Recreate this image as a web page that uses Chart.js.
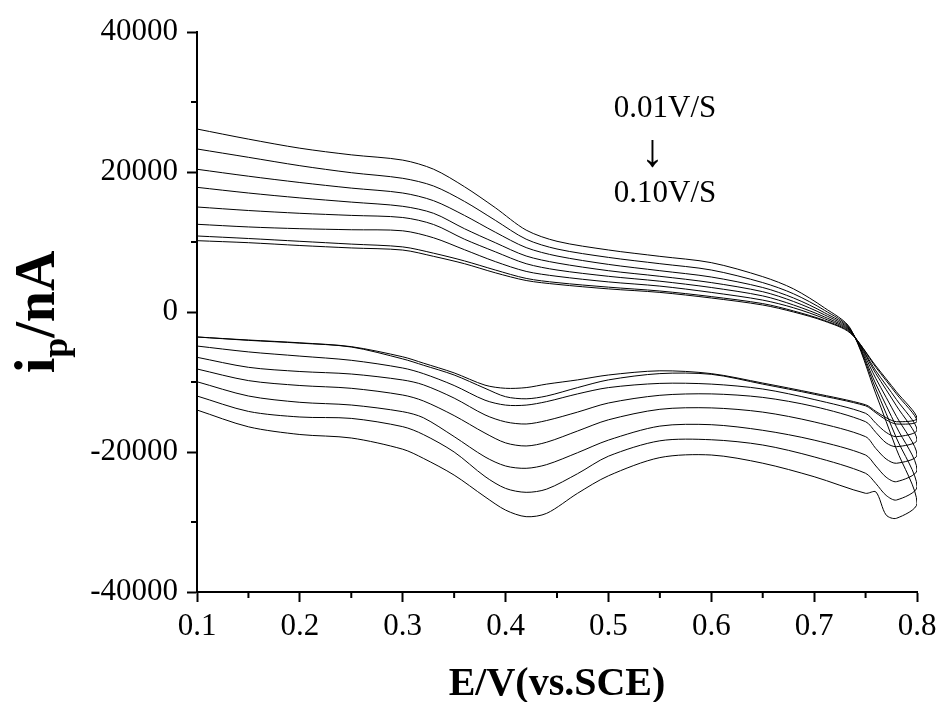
<!DOCTYPE html>
<html>
<head>
<meta charset="utf-8">
<script src="https://cdn.jsdelivr.net/npm/chart.js@4/dist/chart.umd.min.js"></script>
<style>
  body { margin: 0; background: #fff; }
  canvas { display: block; }
</style>
</head>
<body>
<canvas id="chart" width="938" height="702"></canvas>
<script>
// potential grid (V vs SCE) for forward and reverse scans
const eForward = [0.10, 0.15, 0.20, 0.25, 0.30, 0.33, 0.36, 0.39, 0.42, 0.45, 0.50, 0.55, 0.60, 0.65, 0.68, 0.71, 0.735, 0.76, 0.78, 0.80];
const eReverse = [0.80, 0.78, 0.77, 0.76, 0.75, 0.70, 0.65, 0.60, 0.55, 0.50, 0.47, 0.44, 0.42, 0.40, 0.38, 0.35, 0.32, 0.30, 0.25, 0.20, 0.15, 0.10];

// current (nA), forward scan, slowest -> fastest
const fwd1 = [10190, 9900, 9500, 9150, 8850, 7950, 6900, 5600, 4500, 3950, 3300, 2800, 2000, 1000, 0, -1300, -3000, -7700, -11400, -15190];
const fwd2 = [10860, 10500, 10100, 9700, 9300, 8400, 7300, 6000, 4800, 4200, 3550, 3000, 2200, 1200, 150, -1200, -2900, -7900, -11700, -15600];
const fwd3 = [12530, 12150, 11900, 11750, 11600, 10600, 8900, 7200, 5800, 5100, 4300, 3700, 2800, 1700, 600, -950, -2800, -8400, -12500, -16860];
const fwd4 = [15000, 14500, 14100, 13800, 13500, 12500, 10400, 8600, 6900, 6000, 5100, 4400, 3500, 2300, 1000, -700, -2700, -8800, -13400, -18290];
const fwd5 = [17810, 17000, 16300, 15700, 15100, 14100, 11900, 9900, 8000, 7000, 5900, 5100, 4200, 2900, 1500, -400, -2600, -9500, -14900, -20430];
const fwd6 = [20390, 19400, 18500, 17700, 17000, 15900, 13800, 11400, 9200, 8000, 6800, 5900, 5000, 3500, 2000, -100, -2500, -10300, -16400, -22570];
const fwd7 = [23290, 22100, 20900, 19900, 19100, 18000, 15800, 13100, 10400, 9000, 7800, 6900, 6000, 4200, 2600, 250, -2400, -11000, -18000, -24960];
const fwd8 = [26140, 24700, 23400, 22450, 21700, 20400, 17900, 14900, 11700, 10100, 8860, 7950, 7050, 5050, 3300, 600, -2300, -11700, -19600, -27330];

// current (nA), reverse scan
const rev1 = [-15190, -15670, -15100, -14200, -13250, -11600, -10150, -8800, -8400, -9000, -9700, -10300, -10800, -10900, -10450, -8700, -7300, -6400, -4950, -4400, -4000, -3570];
const rev2 = [-15600, -16000, -15400, -14400, -13400, -11750, -10300, -8900, -8800, -9700, -10800, -12000, -12400, -12100, -10900, -9000, -7600, -6700, -5000, -4450, -4050, -3570];
const rev3 = [-16860, -17810, -17200, -15900, -14470, -12500, -11000, -10300, -10200, -10800, -11700, -12800, -13300, -13300, -12600, -10500, -8800, -8000, -6900, -6300, -5700, -4860];
const rev4 = [-18290, -19240, -18700, -17200, -15670, -13500, -12200, -11700, -11900, -13000, -14300, -15500, -16000, -15700, -14700, -12300, -10400, -9710, -8860, -8500, -7900, -6470];
const rev5 = [-20430, -21610, -21000, -19500, -17810, -15700, -14300, -13700, -13900, -15400, -17000, -18600, -19140, -18700, -17300, -14800, -12700, -11860, -10900, -10500, -9800, -8140];
const rev6 = [-22570, -24240, -23600, -22000, -20430, -18300, -16900, -16100, -16300, -18300, -20100, -21800, -22330, -22000, -20700, -17800, -15100, -14240, -13290, -12900, -12000, -9960];
const rev7 = [-24960, -26860, -26200, -24500, -23040, -20700, -19000, -18250, -18400, -20600, -23100, -25300, -25760, -25200, -23500, -20000, -17500, -16380, -15200, -15000, -14200, -12000];
const rev8 = [-27330, -29470, -29000, -25700, -25900, -23530, -21600, -20430, -20800, -23400, -25900, -28760, -29240, -28300, -26400, -23300, -20900, -19600, -18000, -17500, -16400, -14000];

const forwardSets = [fwd1, fwd2, fwd3, fwd4, fwd5, fwd6, fwd7, fwd8];
const reverseSets = [rev1, rev2, rev3, rev4, rev5, rev6, rev7, rev8];

const xMinorTicks = [0.15, 0.25, 0.35, 0.45, 0.55, 0.65, 0.75];
const yMinorTicks = [-30000, -10000, 10000, 30000];

const serif = "'Liberation Serif', 'Times New Roman', serif";

function buildLoop(fwd, rev) {
    let pts = [];
    eForward.forEach((e, i) => pts.push({ x: e, y: fwd[i] }));
    // skip the vertex, it is already the last forward point
    eReverse.forEach((e, i) => { if (i > 0) pts.push({ x: e, y: rev[i] }); });
    return pts;
}

let datasets = forwardSets.map((fwd, k) => ({
    data: buildLoop(fwd, reverseSets[k]),
    showLine: true,
    borderColor: '#000',
    borderWidth: 1,
    pointRadius: 0,
    tension: 0.3,
    fill: false
}));

// minor ticks, axis titles and the scan-rate note
const extrasPlugin = {
    id: 'extras',
    afterDraw(chart) {
        const ctx = chart.ctx;
        const xs = chart.scales.x, ys = chart.scales.y;
        const area = chart.chartArea;

        ctx.save();
        ctx.strokeStyle = '#000';
        ctx.lineWidth = 2;
        xMinorTicks.forEach(v => {
            let px = xs.getPixelForValue(v);
            ctx.beginPath();
            ctx.moveTo(px, area.bottom);
            ctx.lineTo(px, area.bottom + 6);
            ctx.stroke();
        });
        yMinorTicks.forEach(v => {
            let py = ys.getPixelForValue(v);
            ctx.beginPath();
            ctx.moveTo(area.left, py);
            ctx.lineTo(area.left - 6, py);
            ctx.stroke();
        });

        ctx.fillStyle = '#000';

        // x title
        ctx.font = 'bold 40px ' + serif;
        ctx.textAlign = 'center';
        ctx.textBaseline = 'alphabetic';
        ctx.fillText('E/V(vs.SCE)', (area.left + area.right) / 2, 695);

        // y title with subscript p
        ctx.save();
        ctx.translate(40, (area.top + area.bottom) / 2);
        ctx.rotate(-Math.PI / 2);
        ctx.textAlign = 'left';
        ctx.textBaseline = 'middle';
        const mainFont = 'bold 56px ' + serif;
        const subFont = 'bold 36px ' + serif;
        ctx.font = mainFont;
        let wI = ctx.measureText('i').width;
        let wRest = ctx.measureText('/nA').width;
        ctx.font = subFont;
        let wP = ctx.measureText('p').width;
        let start = -(wI + wP + wRest) / 2;
        ctx.font = mainFont;
        ctx.fillText('i', start, 0);
        ctx.font = subFont;
        ctx.fillText('p', start + wI, 18);
        ctx.font = mainFont;
        ctx.fillText('/nA', start + wI + wP, 0);
        ctx.restore();

        // scan rate note
        ctx.font = '31px ' + serif;
        ctx.textAlign = 'center';
        ctx.textBaseline = 'alphabetic';
        ctx.fillText('0.01V/S', xs.getPixelForValue(0.555), ys.getPixelForValue(27860));
        ctx.fillText('0.10V/S', xs.getPixelForValue(0.555), ys.getPixelForValue(15710));
        ctx.font = '46px ' + serif;
        ctx.textBaseline = 'middle';
        ctx.fillText('\u2193', xs.getPixelForValue(0.5425), ys.getPixelForValue(22570));
        ctx.restore();
    }
};

const config = {
    type: 'scatter',
    data: { datasets: datasets },
    options: {
        responsive: false,
        animation: false,
        layout: { padding: { left: 0, top: 32, right: 21, bottom: 0 } },
        plugins: {
            legend: { display: false },
            tooltip: { enabled: false }
        },
        scales: {
            x: {
                type: 'linear',
                min: 0.1,
                max: 0.8,
                afterFit: s => { s.height = 110; s.paddingLeft = 0; s.paddingRight = 0; },
                border: { display: true, color: '#000', width: 2 },
                grid: { drawOnChartArea: false, drawTicks: true, tickLength: 10, tickWidth: 2, color: '#000' },
                ticks: {
                    stepSize: 0.1,
                    padding: 6,
                    color: '#000',
                    maxRotation: 0,
                    font: { family: serif, size: 31 },
                    callback: v => v.toFixed(1)
                }
            },
            y: {
                type: 'linear',
                min: -40000,
                max: 40000,
                afterFit: s => { s.width = 197; s.paddingTop = 0; s.paddingBottom = 0; },
                border: { display: true, color: '#000', width: 2 },
                grid: { drawOnChartArea: false, drawTicks: true, tickLength: 10, tickWidth: 2, color: '#000' },
                ticks: {
                    stepSize: 20000,
                    padding: 9,
                    color: '#000',
                    font: { family: serif, size: 31 },
                    callback: v => String(v)
                }
            }
        }
    },
    plugins: [extrasPlugin]
};

new Chart(document.getElementById('chart'), config);
</script>
</body>
</html>
